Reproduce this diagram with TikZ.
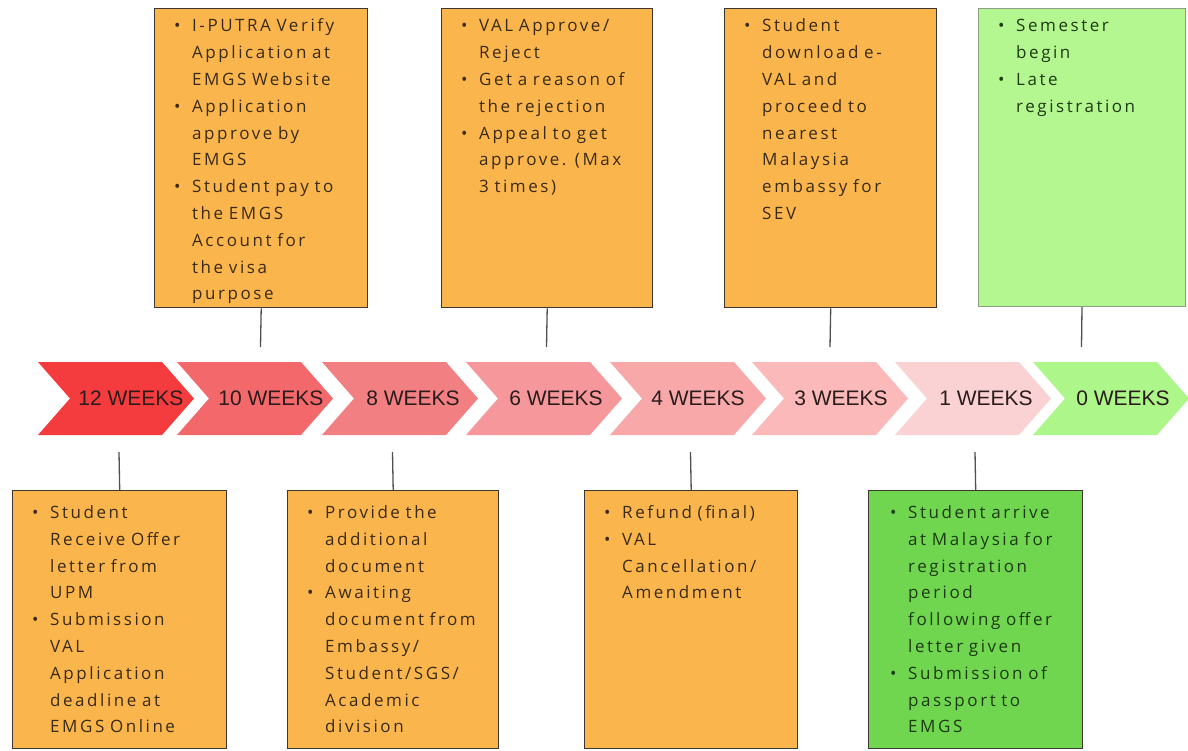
\documentclass[tikz,border=0pt]{standalone}
\usepackage{fontspec}
\setmainfont{Open Sans}
\newfontfamily\chevfont{Liberation Sans}
\newfontfamily\boxfont[LetterSpace=15,WordSpace=1.6]{Open Sans}
\definecolor{c1}{HTML}{F43B3D}
\definecolor{c2}{HTML}{F2686B}
\definecolor{c3}{HTML}{F27F82}
\definecolor{c4}{HTML}{F6979B}
\definecolor{c5}{HTML}{F9A8AA}
\definecolor{c6}{HTML}{FBB9B9}
\definecolor{c7}{HTML}{FBD2D4}
\definecolor{c8}{HTML}{ADF689}
\definecolor{orangebox}{HTML}{FAB64C}
\definecolor{lightgreenbox}{HTML}{B4F790}
\definecolor{greenbox}{HTML}{70D650}
\definecolor{boxline}{HTML}{3E3630}
\definecolor{greenline}{HTML}{8E9E86}
\definecolor{connline}{HTML}{505050}
\definecolor{chevtext}{HTML}{2A1C1C}
\definecolor{boxtext}{HTML}{3A2A18}
\definecolor{greentext}{HTML}{1E3A12}
\newcommand{\bitem}[1]{\par\begingroup\let\\\newline\noindent\hangindent=18pt\hangafter=1\makebox[18pt][l]{\textbullet}\strut#1\par\endgroup}
\tikzset{
  card/.style={draw=boxline, line width=1.4pt, fill=orangebox, anchor=north west, inner sep=0pt},
  cardtext/.style={anchor=north west, inner sep=0pt, text width=200pt, text=boxtext,
     font=\boxfont\fontsize{17}{26.8}\selectfont},
  chevlabel/.style={font=\chevfont\fontsize{21}{24}\selectfont, text=chevtext, inner sep=0pt},
  conn/.style={draw=connline, line width=1.3pt}
}
\newcommand{\chev}[2]{\fill[#2] (#1,362) -- (#1+124,362) -- (#1+156,398.5) -- (#1+124,435) -- (#1,435) -- (#1+32,398.5) -- cycle;}
\begin{document}
\begin{tikzpicture}[x=1pt,y=-1pt]
\useasboundingbox[fill=white] (0,0) rectangle (1188,751);
% chevrons
\chev{38}{c1}
\chev{177}{c2}
\chev{322}{c3}
\chev{466}{c4}
\chev{610}{c5}
\chev{752}{c6}
\chev{895}{c7}
\chev{1033}{c8}
\node[chevlabel] (w12) at (131,398.5) {12 WEEKS};
\node[chevlabel] (w10) at (271,398.5) {10 WEEKS};
\node[chevlabel] (w8) at (413,398.5) {8 WEEKS};
\node[chevlabel] (w6) at (556,398.5) {6 WEEKS};
\node[chevlabel] (w4) at (698,398.5) {4 WEEKS};
\node[chevlabel] (w3) at (841,398.5) {3 WEEKS};
\node[chevlabel] (w1) at (986,398.5) {1 WEEKS};
\node[chevlabel] (w0) at (1123,398.5) {0 WEEKS};
% top boxes
\node[card, minimum width=213pt, minimum height=299pt] (A) at (154,8) {};
\node[card, minimum width=211pt, minimum height=299pt] (B) at (441,8) {};
\node[card, minimum width=212pt, minimum height=299pt] (C) at (724,8) {};
\node[card, draw=greenline, line width=1pt, fill=lightgreenbox, minimum width=207pt, minimum height=298pt] (D) at (978,8) {};
% bottom boxes
\node[card, minimum width=214pt, minimum height=258pt] (E) at (12,490) {};
\node[card, minimum width=211pt, minimum height=258pt] (F) at (287,490) {};
\node[card, minimum width=213pt, minimum height=258pt] (G) at (584,490) {};
\node[card, fill=greenbox, minimum width=214pt, minimum height=258pt] (H) at (868,490) {};
% texts
\node[cardtext] (At) at ([xshift=20pt,yshift=3pt]A.north west) {\raggedright
\bitem{I-PUTRA Verify\\Application at\\EMGS Website}
\bitem{Application\\approve by\\EMGS}
\bitem{Student pay to\\the EMGS\\Account for\\the visa\\purpose}};
\node[cardtext] (Bt) at ([xshift=20pt,yshift=3pt]B.north west) {\raggedright
\bitem{VAL Approve/\\Reject}
\bitem{Get a reason of\\the rejection}
\bitem{Appeal to get\\approve. (Max\\3 times)}};
\node[cardtext] (Ct) at ([xshift=20pt,yshift=3pt]C.north west) {\raggedright
\bitem{Student\\download e-\\VAL and\\proceed to\\nearest\\Malaysia\\embassy for\\SEV}};
\node[cardtext, text=greentext] (Dt) at ([xshift=20pt,yshift=3pt]D.north west) {\raggedright
\bitem{Semester\\begin}
\bitem{Late\\registration}};
\node[cardtext] (Et) at ([xshift=20pt,yshift=-1.5pt]E.north west) {\raggedright
\bitem{Student\\Receive Offer\\letter from\\UPM}
\bitem{Submission\\VAL\\Application\\deadline at\\EMGS Online}};
\node[cardtext] (Ft) at ([xshift=20pt,yshift=-1.5pt]F.north west) {\raggedright
\bitem{Provide the\\additional\\document}
\bitem{Awaiting\\document from\\Embassy/\\Student/SGS/\\Academic\\division}};
\node[cardtext] (Gt) at ([xshift=20pt,yshift=-1.5pt]G.north west) {\raggedright
\bitem{Refund (final)}
\bitem{VAL\\Cancellation/\\Amendment}};
\node[cardtext, text=greentext] (Ht) at ([xshift=22pt,yshift=-1.5pt]H.north west) {\raggedright
\bitem{Student arrive\\at Malaysia for\\registration\\period\\following offer\\letter given}
\bitem{Submission of\\passport to\\EMGS}};
% connector ends
\coordinate (ea) at (260.5,347);
\coordinate (eb) at (546.5,347);
\coordinate (ec) at (830,347);
\coordinate (ed) at (1081.5,347);
\coordinate (ee) at (119,452);
\coordinate (ef) at (392.5,452);
\coordinate (eg) at (690.5,452);
\coordinate (eh) at (975,452);
\draw[conn] (A.south) -- (ea);
\draw[conn] (B.south) -- (eb);
\draw[conn] (C.south) -- (ec);
\draw[conn] (D.south) -- (ed);
\draw[conn] (E.north) -- (ee);
\draw[conn] (F.north) -- (ef);
\draw[conn] (G.north) -- (eg);
\draw[conn] (H.north) -- (eh);
\end{tikzpicture}
\end{document}
